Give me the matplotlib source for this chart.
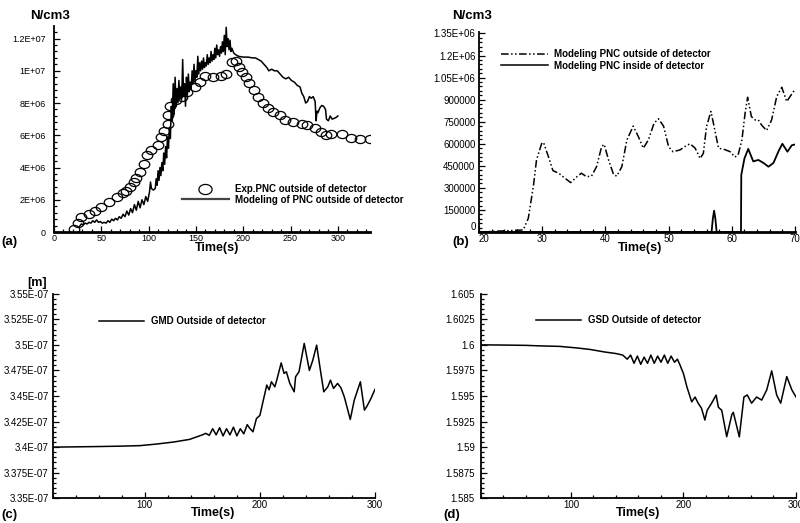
import matplotlib
matplotlib.use('Agg')
import matplotlib.pyplot as plt
from matplotlib.ticker import MultipleLocator, FixedLocator, FixedFormatter
from matplotlib.path import Path
from matplotlib.transforms import Affine2D
from matplotlib.lines import Line2D

plt.rcParams['font.family'] = ['Liberation Sans', 'DejaVu Sans']

# ---------------- data: panel (a) ----------------
exp_t = [21, 25.7, 29, 37, 43, 50, 58, 67, 73, 76, 80, 84.5, 87, 91, 95, 98.6, 103, 110,
         113, 116, 120, 121, 123, 129, 135, 141, 149, 154, 159.5, 168, 177, 182, 188, 192,
         196, 199, 203, 206, 211, 216, 221, 226, 232, 239, 244, 253, 262, 267, 276, 282,
         288, 293, 304, 314, 323, 334]
exp_v = [0.2, 0.58, 0.9, 1.1, 1.3, 1.57, 1.86, 2.15, 2.4, 2.54, 2.8, 3.1, 3.37, 3.7, 4.2,
         4.8, 5.1, 5.4, 5.9, 6.26, 6.7, 7.25, 7.8, 8.2, 8.4, 8.7, 9.0, 9.3, 9.7, 9.6, 9.7,
         9.8, 10.55, 10.6, 10.25, 9.9, 9.6, 9.25, 8.8, 8.4, 8.0, 7.7, 7.45, 7.25, 6.95, 6.85,
         6.67, 6.63, 6.43, 6.2, 6.0, 6.1, 6.05, 5.85, 5.76, 5.76]

mod_t = [27, 29, 31, 33, 35, 37, 39, 41, 43, 45, 47, 49, 51, 53, 55, 57, 59, 61, 63, 65,
         67, 69, 71, 73, 75, 77, 79, 81, 83, 85, 87, 89, 91, 93, 95, 97, 99, 101, 102, 103,
         105, 107, 108, 109, 110, 111, 112, 113, 114, 115, 116, 117, 118, 119, 120, 121,
         122, 123, 124, 125, 126, 127, 128, 129, 130, 131, 132, 133, 134, 135, 136, 137,
         138, 139, 140, 141, 142, 143, 144, 145, 146, 147, 148, 149, 150, 151, 152, 153,
         154, 155, 156, 157, 158, 159, 160, 161, 162, 163, 164, 165, 166, 167, 168, 169,
         170, 171, 172, 173, 174, 175, 176, 177, 178, 179, 180, 181, 182, 183, 184, 185,
         186, 187, 188, 190, 192, 195, 200, 205, 210, 213, 216, 219, 222, 225, 227, 230,
         233, 236, 239, 242, 245, 248, 251, 254, 257, 260, 262, 264, 266, 268, 270, 272,
         274, 276, 277, 278, 279, 281, 283, 285, 287, 288, 290, 292, 294, 296, 298, 300]
mod_v = [0.35, 0.5, 0.45, 0.55, 0.5, 0.6, 0.55, 0.7, 0.6, 0.75, 0.6, 0.65, 0.55, 0.6, 0.55,
         0.7, 0.6, 0.8, 0.7, 0.85, 0.75, 0.95, 0.85, 1.1, 0.95, 1.3, 1.05, 1.45, 1.2, 1.7,
         1.35, 1.9, 1.5, 2.0, 1.7, 2.2, 1.9, 2.5, 3.1, 2.7, 2.6, 2.7, 3.3, 2.9, 3.8, 3.2,
         4.0, 3.5, 4.3, 3.8, 4.9, 4.2, 5.3, 4.6, 5.9, 5.2, 6.5, 5.8, 7.8, 6.9, 9.2, 7.3, 9.6,
         7.8, 8.9, 8.0, 9.4, 8.2, 9.0, 8.3, 10.7, 8.4, 9.2, 7.8, 9.6, 8.5, 9.8, 8.7, 9.3,
         8.9, 10.0, 9.2, 10.4, 9.3, 10.0, 9.6, 10.9, 9.8, 10.5, 10.0, 10.6, 10.1, 10.8,
         10.2, 10.5, 10.3, 11.0, 10.4, 10.8, 10.5, 11.2, 10.6, 11.0, 10.7, 11.4, 10.8, 11.6,
         11.0, 11.3, 10.9, 11.5, 11.1, 11.8, 11.2, 12.2, 11.0, 12.7, 11.5, 12.0, 11.3, 11.9,
         11.2, 11.4, 11.1, 11.0, 10.9, 10.85, 10.85, 10.8, 10.8, 10.7, 10.6, 10.4, 10.2,
         10.0, 10.1, 10.0, 10.0, 9.8, 9.6, 9.5, 9.6, 9.4, 9.3, 9.1, 9.0, 8.6, 8.4, 8.0, 8.1,
         8.4, 8.3, 8.4, 8.1, 6.9, 7.5, 7.4, 7.7, 7.85, 7.8, 7.6, 7.0, 6.9, 7.2, 7.0, 7.05,
         7.1, 7.2]
a_scale = 1e6

# ---------------- data: panel (b) ----------------
out_t = [20, 27.0, 27.8, 28.6, 29.1, 29.9, 30.2, 31.0, 31.7, 32.6, 33.3, 34.5, 35.5, 36.2,
         37.0, 37.8, 38.6, 39.4, 39.8, 40.5, 41.3, 41.8, 42.6, 43.4, 44.4, 45.2, 46.0, 46.8,
         47.7, 48.4, 49.2, 50.0, 50.7, 51.8, 52.9, 53.4, 54.2, 55.0, 55.5, 56.0, 56.7, 57.2,
         57.9, 58.9, 59.7, 60.5, 61.0, 61.6, 62.1, 62.5, 63.1, 63.7, 64.2, 64.7, 65.5, 66.3,
         67.1, 67.9, 68.7, 69.2, 70.0]
out_v = [0, 0.014, 0.093, 0.31, 0.49, 0.60, 0.61, 0.51, 0.417, 0.40, 0.376, 0.336, 0.376,
         0.40, 0.376, 0.38, 0.444, 0.58, 0.596, 0.49, 0.39, 0.38, 0.444, 0.626, 0.72, 0.65,
         0.57, 0.626, 0.74, 0.77, 0.72, 0.58, 0.546, 0.558, 0.59, 0.60, 0.57, 0.50, 0.535,
         0.717, 0.82, 0.717, 0.57, 0.56, 0.547, 0.51, 0.524, 0.626, 0.807, 0.916, 0.785,
         0.762, 0.762, 0.728, 0.69, 0.762, 0.92, 0.984, 0.887, 0.92, 0.97]
in_t = [20, 56.8, 57.0, 57.2, 57.4, 57.6, 61.45, 61.5, 62.0, 62.6, 63.4, 64.2, 65.0, 65.8,
        66.6, 67.4, 68.0, 68.8, 69.5, 70.0]
in_v = [0, 0, 0.09, 0.145, 0.09, 0, 0, 0.388, 0.50, 0.565, 0.48, 0.49, 0.47, 0.444, 0.47,
        0.55, 0.60, 0.546, 0.59, 0.595]
b_scale = 1e6

# ---------------- data: panel (c) ----------------
gmd_t = [20, 40, 60, 80, 96, 110, 125, 139, 145, 150, 153, 156, 159, 162, 165, 168, 171,
         174, 177, 180, 183, 186, 189, 191, 194, 197, 200, 203, 206, 208, 210, 213, 215,
         218.5, 221, 223, 226, 229.8, 231, 234, 238.5, 243, 246, 249.3, 253, 255.5, 259,
         261.3, 264, 267.5, 270.4, 273.3, 278.5, 282, 287.3, 290.8, 293, 296.5, 300]
gmd_v = [3.400, 3.4003, 3.4006, 3.401, 3.4015, 3.403, 3.405, 3.4076, 3.410, 3.412, 3.4135,
         3.4115, 3.418, 3.412, 3.419, 3.411, 3.418, 3.412, 3.4195, 3.411, 3.418, 3.413,
         3.422, 3.4187, 3.415, 3.428, 3.431, 3.446, 3.4607, 3.456, 3.4639, 3.459, 3.467,
         3.4824, 3.472, 3.4737, 3.4623, 3.4541, 3.4688, 3.4737, 3.5014, 3.475, 3.4851,
         3.4997, 3.472, 3.4541, 3.459, 3.4655, 3.4574, 3.4623, 3.458, 3.4493, 3.4271,
         3.446, 3.4639, 3.4362, 3.440, 3.4476, 3.4565]
c_scale = 1e-7

# ---------------- data: panel (d) ----------------
gsd_t = [20, 40, 60, 72, 90, 105, 117, 130, 140, 146, 150, 153, 156, 159, 162, 165, 168,
         171, 174, 177, 180, 183, 186, 189, 192, 194.6, 197, 199.9, 203, 207.3, 210.3, 213,
         216, 219, 221, 225, 229, 231, 234, 238.4, 243, 244.3, 249.6, 253.7, 256.7, 260.5,
         265, 269.5, 274, 278.4, 282.8, 286.4, 291.8, 296.3, 300]
gsd_v = [1.6000, 1.59998, 1.59995, 1.59990, 1.59985, 1.59970, 1.59955, 1.5993, 1.59915,
         1.5990, 1.5986, 1.5990, 1.5982, 1.5989, 1.5981, 1.5988, 1.5982, 1.5990, 1.5982,
         1.5989, 1.5983, 1.5990, 1.5982, 1.5989, 1.5983, 1.5986, 1.5980, 1.59721, 1.5959,
         1.59443, 1.5949, 1.5943, 1.5938, 1.59265, 1.5936, 1.5943, 1.59509, 1.5939,
         1.5936, 1.59102, 1.5932, 1.5934, 1.5910, 1.5949, 1.5951, 1.5943, 1.5949, 1.5946,
         1.5956, 1.59746, 1.5951, 1.5943, 1.5969, 1.5956, 1.5949]

# ---------------- tick labels ----------------
a_yticks = [0, 2e6, 4e6, 6e6, 8e6, 1e7, 1.2e7]
a_ylabels = ['0', '2E+06', '4E+06', '6E+06', '8E+06', '1E+07', '1.2E+07']
a_xticks = [0, 50, 100, 150, 200, 250, 300]
b_yticks = [0, 150000, 300000, 450000, 600000, 750000, 900000, 1.05e6, 1.2e6, 1.35e6]
b_ylabels = ['0', '150000', '300000', '450000', '600000', '750000', '900000',
             '1.05E+06', '1.2E+06', '1.35E+06']
b_xticks = [20, 30, 40, 50, 60, 70]
c_yticks = [3.35e-7, 3.375e-7, 3.4e-7, 3.425e-7, 3.45e-7, 3.475e-7, 3.5e-7, 3.525e-7, 3.55e-7]
c_ylabels = ['3.35E-07', '3.375E-07', '3.4E-07', '3.425E-07', '3.45E-07', '3.475E-07',
             '3.5E-07', '3.525E-07', '3.55E-07']
d_yticks = [1.585, 1.5875, 1.59, 1.5925, 1.595, 1.5975, 1.6, 1.6025, 1.605]
d_ylabels = ['1.585', '1.5875', '1.59', '1.5925', '1.595', '1.5975', '1.6', '1.6025', '1.605']
cd_xticks = [100, 200, 300]

W, H = 800, 523
fig = plt.figure(figsize=(8, 5.23), dpi=100)


def axes_px(l, t, r, b):
    return fig.add_axes([l / W, 1 - b / H, (r - l) / W, (b - t) / H])


def style(ax, bottom_lw, labelsize, ypad, xpad=1.5):
    for s in ['top', 'right']:
        ax.spines[s].set_visible(False)
    ax.spines['left'].set_linewidth(1.3)
    ax.spines['bottom'].set_linewidth(bottom_lw)
    ax.tick_params(which='both', direction='in', width=0.9, colors='black')
    ax.tick_params(which='major', length=4.5)
    ax.tick_params(which='minor', length=2.5)
    ax.tick_params(axis='y', which='major', pad=ypad, labelsize=labelsize)
    ax.tick_params(axis='x', which='major', pad=xpad, labelsize=labelsize)


def ftext(x, y, s, size=9, ha='left', va='center', weight='bold'):
    fig.text(x / W, 1 - y / H, s, fontsize=size, ha=ha, va=va, fontweight=weight)


ellipse = Affine2D().scale(1.3, 1.0).transform_path(Path.unit_circle())
leg_prop = {'size': 7, 'weight': 'bold'}

# ---- (a)
ax = axes_px(54, 26, 370, 232)
ax.plot(mod_t, [v * a_scale for v in mod_v], color='black', lw=1.1)
ax.plot(exp_t, [v * a_scale for v in exp_v], linestyle='none', marker=ellipse,
        markersize=7.6, markerfacecolor='none', markeredgecolor='black', markeredgewidth=0.9)
ax.set_xlim(0, 334)
ax.set_ylim(0, 1.278e7)
ax.yaxis.set_major_locator(FixedLocator(a_yticks))
ax.yaxis.set_major_formatter(FixedFormatter(a_ylabels))
ax.yaxis.set_minor_locator(MultipleLocator(4e5))
ax.xaxis.set_major_locator(FixedLocator(a_xticks))
ax.xaxis.set_minor_locator(MultipleLocator(10))
style(ax, 2.0, 6.5, 6)
h1 = Line2D([], [], linestyle='none', marker=ellipse, markersize=9.5,
            markerfacecolor='none', markeredgecolor='black', markeredgewidth=0.9)
h2 = Line2D([], [], color='#444444', lw=1.6)
fig.legend([h1, h2], ['Exp.PNC outside of detector', 'Modeling of PNC outside of detector'],
           loc='center left', bbox_to_anchor=(182 / W, 1 - 194.5 / H), frameon=False,
           prop=leg_prop, handlelength=4.8, handletextpad=0.7,
           labelspacing=0.05, borderpad=0, borderaxespad=0)

# ---- (b)
ax = axes_px(479, 32, 795, 232)
ax.plot(out_t, [v * b_scale for v in out_v], color='black', lw=1.1,
        dashes=[5, 1.6, 1, 1.6, 1, 1.6])
ax.plot(in_t, [v * b_scale for v in in_v], color='black', lw=1.3)
ax.set_xlim(20, 70)
ax.set_ylim(0, 1.36e6)
ax.yaxis.set_major_locator(FixedLocator(b_yticks))
ax.yaxis.set_major_formatter(FixedFormatter(b_ylabels))
ax.yaxis.set_minor_locator(MultipleLocator(30000))
ax.xaxis.set_major_locator(FixedLocator(b_xticks))
ax.xaxis.set_minor_locator(MultipleLocator(2))
style(ax, 2.0, 7, 2.5)
fig.canvas.draw()
ax.get_xticklabels()[0].set_horizontalalignment('left')
ax.get_yticklabels()[0].set_verticalalignment('bottom')
h1 = Line2D([], [], color='black', lw=1.1, dashes=[5, 1.6, 1, 1.6, 1, 1.6])
h2 = Line2D([], [], color='black', lw=1.1)
fig.legend([h1, h2], ['Modeling PNC outside of detector', 'Modeling PNC inside of detector'],
           loc='center left', bbox_to_anchor=(501 / W, 1 - 59.8 / H), frameon=False,
           prop=leg_prop, handlelength=4.8, handletextpad=0.7,
           labelspacing=0.15, borderpad=0, borderaxespad=0)

# ---- (c)
ax = axes_px(52.7, 293.7, 375, 498.3)
ax.plot(gmd_t, [v * c_scale for v in gmd_v], color='black', lw=1.1)
ax.set_xlim(20, 300)
ax.set_ylim(3.35e-7, 3.55e-7)
ax.yaxis.set_major_locator(FixedLocator(c_yticks))
ax.yaxis.set_major_formatter(FixedFormatter(c_ylabels))
ax.yaxis.set_minor_locator(MultipleLocator(0.005e-7))
ax.xaxis.set_major_locator(FixedLocator(cd_xticks))
ax.xaxis.set_minor_locator(MultipleLocator(20))
style(ax, 1.3, 7, 3.0)
h1 = Line2D([], [], color='black', lw=1.1)
fig.legend([h1], ['GMD Outside of detector'], loc='center left',
           bbox_to_anchor=(99 / W, 1 - 321 / H), frameon=False,
           prop=leg_prop, handlelength=4.6, handletextpad=0.7,
           borderpad=0, borderaxespad=0)

# ---- (d)
ax = axes_px(481, 293.7, 796, 498.3)
ax.plot(gsd_t, gsd_v, color='black', lw=1.1)
ax.set_xlim(20, 300)
ax.set_ylim(1.585, 1.605)
ax.yaxis.set_major_locator(FixedLocator(d_yticks))
ax.yaxis.set_major_formatter(FixedFormatter(d_ylabels))
ax.yaxis.set_minor_locator(MultipleLocator(0.0005))
ax.xaxis.set_major_locator(FixedLocator(cd_xticks))
ax.xaxis.set_minor_locator(MultipleLocator(20))
style(ax, 1.3, 7, 4.5)
h1 = Line2D([], [], color='black', lw=1.1)
fig.legend([h1], ['GSD Outside of detector'], loc='center left',
           bbox_to_anchor=(536 / W, 1 - 320 / H), frameon=False,
           prop=leg_prop, handlelength=4.6, handletextpad=0.7,
           borderpad=0, borderaxespad=0)

# ---- texts
ftext(30, 16, 'N/cm3', 9.5)
ftext(452, 16, 'N/cm3', 9.5)
ftext(27, 283, '[m]', 9)
ftext(1, 242, '(a)', 9.5)
ftext(452, 242, '(b)', 9.5)
ftext(1, 515, '(c)', 9.5)
ftext(443, 515, '(d)', 9.5)
ftext(217, 248.5, 'Time(s)', 9, ha='center')
ftext(640, 248.5, 'Time(s)', 9, ha='center')
ftext(213, 513, 'Time(s)', 9, ha='center')
ftext(638, 513, 'Time(s)', 9, ha='center')

fig.savefig('out.png', dpi=100)
